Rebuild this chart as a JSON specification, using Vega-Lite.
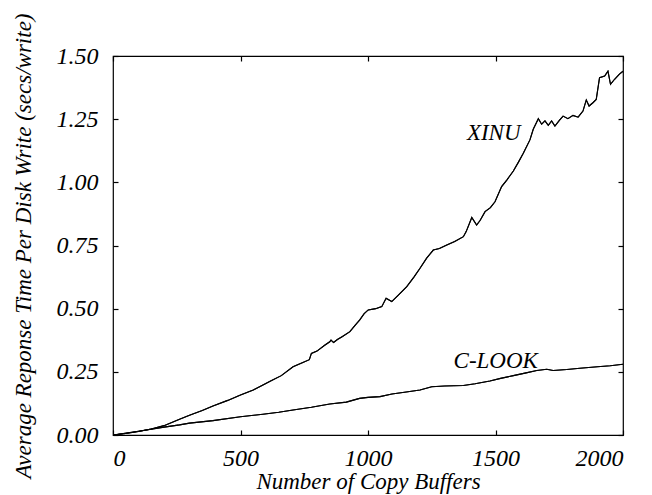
{
  "$schema": "https://vega.github.io/schema/vega-lite/v6.json",
  "width": 510,
  "height": 379,
  "autosize": "none",
  "padding": {"left": 113, "top": 56, "right": 29, "bottom": 60},
  "background": "white",
  "config": {
    "view": {"stroke": "#000", "strokeWidth": 1.2},
    "font": "Liberation Serif",
    "axis": {
      "domain": false,
      "grid": false,
      "tickColor": "#000",
      "tickSize": -5,
      "tickWidth": 1.2,
      "labelFont": "Liberation Serif",
      "labelFontStyle": "italic",
      "labelFontSize": 24,
      "labelColor": "#000",
      "labelPadding": 20,
      "titleFont": "Liberation Serif",
      "titleFontStyle": "italic",
      "titleFontWeight": "normal",
      "titleFontSize": 23,
      "titleColor": "#000"
    }
  },
  "datasets": {
    "curves": [
      {"series": "XINU", "x": 0, "y": 0},
      {"series": "XINU", "x": 50, "y": 0.006},
      {"series": "XINU", "x": 100, "y": 0.014},
      {"series": "XINU", "x": 150, "y": 0.024},
      {"series": "XINU", "x": 200, "y": 0.037},
      {"series": "XINU", "x": 261, "y": 0.062},
      {"series": "XINU", "x": 300, "y": 0.078},
      {"series": "XINU", "x": 350, "y": 0.097},
      {"series": "XINU", "x": 392, "y": 0.115},
      {"series": "XINU", "x": 450, "y": 0.137},
      {"series": "XINU", "x": 500, "y": 0.158},
      {"series": "XINU", "x": 550, "y": 0.178},
      {"series": "XINU", "x": 588, "y": 0.198},
      {"series": "XINU", "x": 620, "y": 0.215},
      {"series": "XINU", "x": 660, "y": 0.235},
      {"series": "XINU", "x": 706, "y": 0.27},
      {"series": "XINU", "x": 740, "y": 0.285},
      {"series": "XINU", "x": 770, "y": 0.298},
      {"series": "XINU", "x": 778, "y": 0.323},
      {"series": "XINU", "x": 800, "y": 0.332},
      {"series": "XINU", "x": 830, "y": 0.355},
      {"series": "XINU", "x": 850, "y": 0.369},
      {"series": "XINU", "x": 855, "y": 0.376},
      {"series": "XINU", "x": 865, "y": 0.366},
      {"series": "XINU", "x": 880, "y": 0.378},
      {"series": "XINU", "x": 900, "y": 0.39},
      {"series": "XINU", "x": 929, "y": 0.409},
      {"series": "XINU", "x": 950, "y": 0.435},
      {"series": "XINU", "x": 967, "y": 0.455},
      {"series": "XINU", "x": 985, "y": 0.48},
      {"series": "XINU", "x": 1001, "y": 0.495},
      {"series": "XINU", "x": 1030, "y": 0.5},
      {"series": "XINU", "x": 1054, "y": 0.508},
      {"series": "XINU", "x": 1071, "y": 0.541},
      {"series": "XINU", "x": 1093, "y": 0.528},
      {"series": "XINU", "x": 1120, "y": 0.555},
      {"series": "XINU", "x": 1152, "y": 0.587},
      {"series": "XINU", "x": 1180, "y": 0.625},
      {"series": "XINU", "x": 1204, "y": 0.66},
      {"series": "XINU", "x": 1230, "y": 0.7},
      {"series": "XINU", "x": 1256, "y": 0.732},
      {"series": "XINU", "x": 1280, "y": 0.738},
      {"series": "XINU", "x": 1309, "y": 0.752},
      {"series": "XINU", "x": 1340, "y": 0.766},
      {"series": "XINU", "x": 1374, "y": 0.785},
      {"series": "XINU", "x": 1385, "y": 0.805},
      {"series": "XINU", "x": 1407, "y": 0.861},
      {"series": "XINU", "x": 1426, "y": 0.831},
      {"series": "XINU", "x": 1440, "y": 0.85},
      {"series": "XINU", "x": 1459, "y": 0.884},
      {"series": "XINU", "x": 1480, "y": 0.9},
      {"series": "XINU", "x": 1498, "y": 0.923},
      {"series": "XINU", "x": 1524, "y": 0.983},
      {"series": "XINU", "x": 1545, "y": 1.01},
      {"series": "XINU", "x": 1570, "y": 1.045},
      {"series": "XINU", "x": 1590, "y": 1.08},
      {"series": "XINU", "x": 1609, "y": 1.115},
      {"series": "XINU", "x": 1635, "y": 1.168},
      {"series": "XINU", "x": 1648, "y": 1.21},
      {"series": "XINU", "x": 1668, "y": 1.252},
      {"series": "XINU", "x": 1681, "y": 1.23},
      {"series": "XINU", "x": 1694, "y": 1.243},
      {"series": "XINU", "x": 1707, "y": 1.226},
      {"series": "XINU", "x": 1720, "y": 1.243},
      {"series": "XINU", "x": 1733, "y": 1.223},
      {"series": "XINU", "x": 1752, "y": 1.247},
      {"series": "XINU", "x": 1765, "y": 1.262},
      {"series": "XINU", "x": 1784, "y": 1.252},
      {"series": "XINU", "x": 1804, "y": 1.265},
      {"series": "XINU", "x": 1824, "y": 1.258},
      {"series": "XINU", "x": 1843, "y": 1.282},
      {"series": "XINU", "x": 1856, "y": 1.326},
      {"series": "XINU", "x": 1867, "y": 1.302},
      {"series": "XINU", "x": 1882, "y": 1.315},
      {"series": "XINU", "x": 1895, "y": 1.328},
      {"series": "XINU", "x": 1908, "y": 1.414},
      {"series": "XINU", "x": 1928, "y": 1.421},
      {"series": "XINU", "x": 1941, "y": 1.44},
      {"series": "XINU", "x": 1951, "y": 1.388},
      {"series": "XINU", "x": 1967, "y": 1.408},
      {"series": "XINU", "x": 1986, "y": 1.428},
      {"series": "XINU", "x": 2000, "y": 1.44},
      {"series": "C-LOOK", "x": 0, "y": 0},
      {"series": "C-LOOK", "x": 100, "y": 0.015},
      {"series": "C-LOOK", "x": 200, "y": 0.031},
      {"series": "C-LOOK", "x": 261, "y": 0.04},
      {"series": "C-LOOK", "x": 300, "y": 0.047},
      {"series": "C-LOOK", "x": 392, "y": 0.057},
      {"series": "C-LOOK", "x": 500, "y": 0.072},
      {"series": "C-LOOK", "x": 588, "y": 0.082},
      {"series": "C-LOOK", "x": 650, "y": 0.09},
      {"series": "C-LOOK", "x": 706, "y": 0.099},
      {"series": "C-LOOK", "x": 778, "y": 0.11},
      {"series": "C-LOOK", "x": 850, "y": 0.123},
      {"series": "C-LOOK", "x": 915, "y": 0.13},
      {"series": "C-LOOK", "x": 967, "y": 0.145},
      {"series": "C-LOOK", "x": 1000, "y": 0.149},
      {"series": "C-LOOK", "x": 1047, "y": 0.152},
      {"series": "C-LOOK", "x": 1094, "y": 0.162},
      {"series": "C-LOOK", "x": 1150, "y": 0.17},
      {"series": "C-LOOK", "x": 1204, "y": 0.178},
      {"series": "C-LOOK", "x": 1250, "y": 0.191},
      {"series": "C-LOOK", "x": 1300, "y": 0.194},
      {"series": "C-LOOK", "x": 1374, "y": 0.196},
      {"series": "C-LOOK", "x": 1420, "y": 0.203},
      {"series": "C-LOOK", "x": 1478, "y": 0.214},
      {"series": "C-LOOK", "x": 1520, "y": 0.224},
      {"series": "C-LOOK", "x": 1570, "y": 0.235},
      {"series": "C-LOOK", "x": 1620, "y": 0.246},
      {"series": "C-LOOK", "x": 1662, "y": 0.255},
      {"series": "C-LOOK", "x": 1701, "y": 0.26},
      {"series": "C-LOOK", "x": 1726, "y": 0.255},
      {"series": "C-LOOK", "x": 1780, "y": 0.259},
      {"series": "C-LOOK", "x": 1831, "y": 0.264},
      {"series": "C-LOOK", "x": 1900, "y": 0.27},
      {"series": "C-LOOK", "x": 1950, "y": 0.274},
      {"series": "C-LOOK", "x": 2000, "y": 0.28}
    ],
    "labels": [
      {"label": "XINU", "x": 1493, "y": 1.168},
      {"label": "C-LOOK", "x": 1501, "y": 0.265}
    ]
  },
  "layer": [
    {
      "data": {"name": "curves"},
      "mark": {"type": "line", "color": "#000", "strokeWidth": 1.1, "clip": true},
      "encoding": {
        "x": {
          "field": "x", "type": "quantitative",
          "scale": {"domain": [0, 2000], "nice": false, "zero": false},
          "axis": {"orient": "bottom", "values": [0, 500, 1000, 1500, 2000], "format": "d", "labelPadding": 16, "title": "Number of Copy Buffers", "titleY": 46, "titleBaseline": "middle"}
        },
        "y": {
          "field": "y", "type": "quantitative",
          "scale": {"domain": [0, 1.5], "nice": false},
          "axis": {"orient": "left", "values": [0, 0.25, 0.5, 0.75, 1.0, 1.25, 1.5], "format": ".2f", "title": "Average Reponse Time Per Disk Write (secs/write)", "titleX": -90, "titleBaseline": "middle"}
        },
        "detail": {"field": "series"}
      }
    },
    {
      "data": {"name": "curves"},
      "mark": {"type": "line", "color": "#000", "strokeWidth": 1.1, "clip": true},
      "encoding": {
        "x": {
          "field": "x", "type": "quantitative",
          "axis": {"orient": "top", "values": [0, 500, 1000, 1500, 2000], "labels": false, "title": null}
        },
        "y": {
          "field": "y", "type": "quantitative",
          "axis": {"orient": "right", "values": [0, 0.25, 0.5, 0.75, 1.0, 1.25, 1.5], "labels": false, "title": null}
        },
        "detail": {"field": "series"}
      }
    },
    {
      "data": {"name": "labels"},
      "mark": {"type": "text", "font": "Liberation Serif", "fontStyle": "italic", "fontSize": 23, "color": "#000", "align": "center", "baseline": "alphabetic"},
      "encoding": {
        "x": {"field": "x", "type": "quantitative", "axis": null},
        "y": {"field": "y", "type": "quantitative", "axis": null},
        "text": {"field": "label"}
      }
    }
  ],
  "resolve": {"axis": {"x": "independent", "y": "independent"}}
}
